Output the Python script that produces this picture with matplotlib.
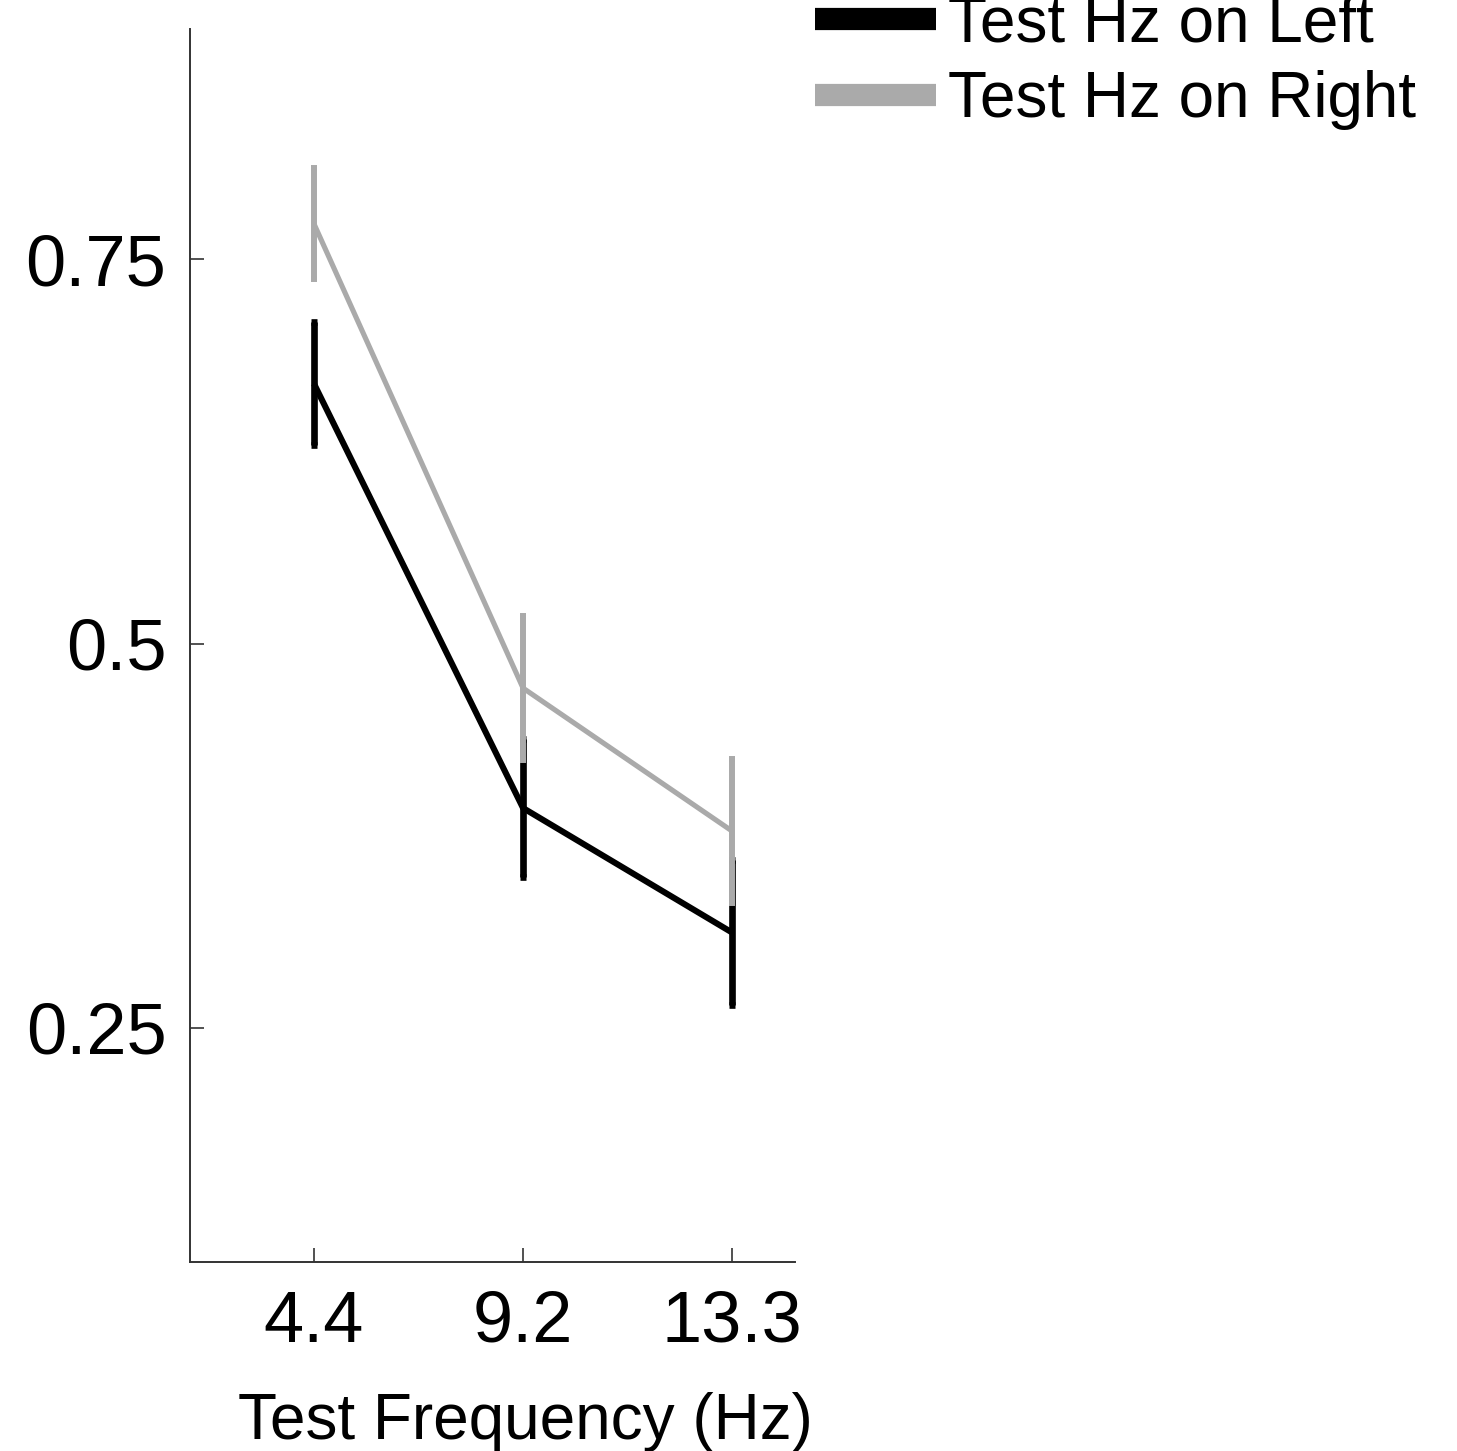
import matplotlib
matplotlib.use("Agg")
import matplotlib.pyplot as plt
from matplotlib.lines import Line2D

plt.rcParams['font.family'] = ['Liberation Sans', 'DejaVu Sans']

freq_labels = ["4.4", "9.2", "13.3"]
left_mean = [0.669, 0.393, 0.312]
left_err = [0.040, 0.045, 0.047]
right_mean = [0.773, 0.471, 0.378]
right_err = [0.036, 0.047, 0.047]
series_names = ["Test Hz on Left", "Test Hz on Right"]

W, H = 1457, 1451
fig = plt.figure(figsize=(W / 100, H / 100), dpi=100)
ax = fig.add_axes([190 / W, 1 - 1262 / H, (795 - 190) / W, (1262 - 29) / H])

x = list(range(len(freq_labels)))
black = "#000000"
gray = "#aaaaaa"

ax.plot(x, left_mean, color=black, lw=4.4, zorder=3, solid_capstyle='butt')
ax.plot(x, right_mean, color=gray, lw=3.7, zorder=2, solid_capstyle='butt')

ax.errorbar(x, left_mean, yerr=left_err, fmt='none', ecolor=black,
            elinewidth=4.8, capsize=2.5, capthick=4.8, zorder=4)
ax.errorbar(x, right_mean, yerr=right_err, fmt='none', ecolor=gray,
            elinewidth=4.3, capsize=2.5, capthick=4.3, zorder=5)

ax.set_xlim(-0.593, 2.301)
ax.set_ylim(0.0977, 0.8997)
ax.set_xticks(x)
ax.set_xticklabels(freq_labels)
ax.set_yticks([0.25, 0.5, 0.75])
ax.set_yticklabels(["0.25", "0.5", "0.75"])

for s in ['top', 'right']:
    ax.spines[s].set_visible(False)
for s in ['left', 'bottom']:
    ax.spines[s].set_color('#333333')
    ax.spines[s].set_linewidth(1.4)

ax.tick_params(axis='both', direction='in', length=10, width=1.2, color='#333333',
               labelsize=52, pad=17)
ax.tick_params(axis='x', pad=20)
ax.set_xlabel("Test Frequency (Hz)", fontsize=46, labelpad=25, x=0.555)

handles = [Line2D([], [], color=black, lw=16, solid_capstyle='butt'),
           Line2D([], [], color=gray, lw=16, solid_capstyle='butt')]
fig.legend(handles, series_names, loc='upper left',
           bbox_to_anchor=(815 / W, 1 + 6 / H), frameon=False, fontsize=46,
           borderpad=0, borderaxespad=0, handlelength=1.9, handletextpad=0.18,
           labelspacing=0.25)

fig.savefig("out.png", dpi=100)
